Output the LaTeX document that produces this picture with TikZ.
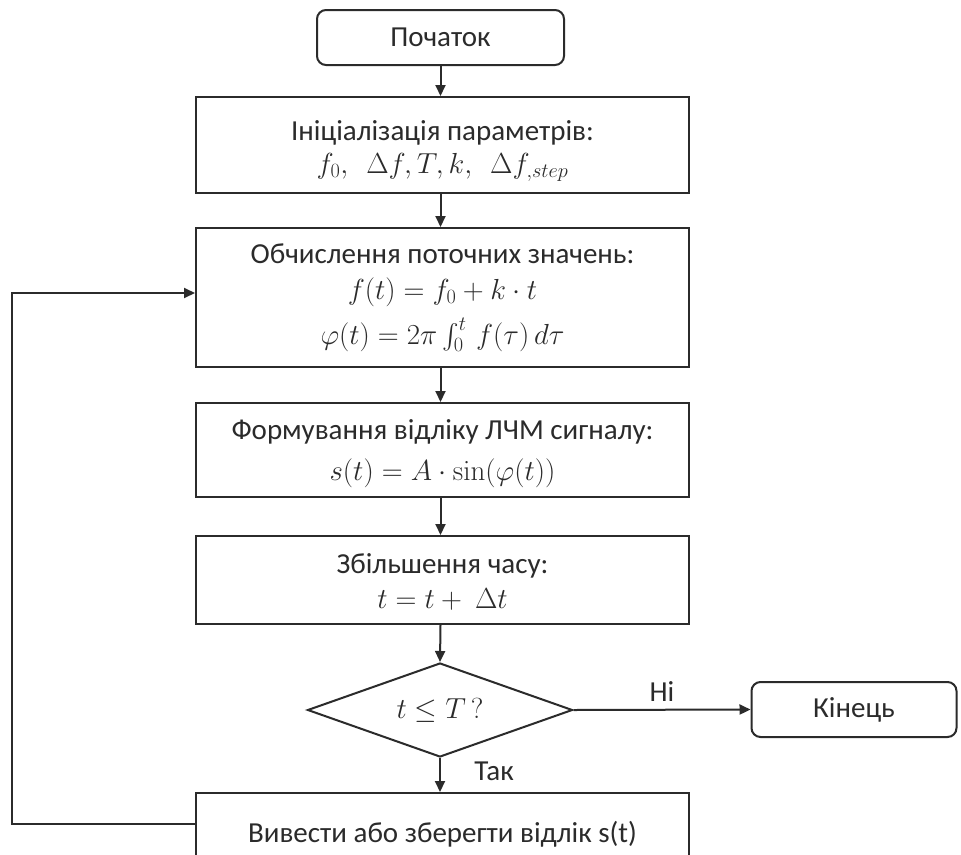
\RequirePackage{fix-cm}
\documentclass[tikz,border=0pt]{standalone}
\usepackage{exscale}
\usepackage[no-math]{fontspec}
\setmainfont{Carlito}
\usetikzlibrary{shapes.geometric,arrows.meta}
\definecolor{ink}{HTML}{2B2B2B}
\tikzset{
  base/.style={draw=ink, line width=2pt, text=ink, align=center, inner sep=0pt,
    font=\fontsize{29}{37}\selectfont},
  term/.style={base, rounded corners=9pt},
  procbox/.style={base, minimum width=493pt},
  decision/.style={base, diamond, minimum width=265pt, minimum height=94pt, aspect=2.8},
  arr/.style={draw=ink, line width=2pt, -{Triangle[length=11pt,width=10pt]}},
  lbl/.style={text=ink, font=\fontsize{29}{34}\selectfont}
}
\begin{document}
\begin{tikzpicture}[x=1pt,y=-1pt]
\clip (0,0) rectangle (961,854);
\fill[white] (0,0) rectangle (961,854);

\node[term, minimum width=247pt, minimum height=55pt] (start) at (440.5,37.5) {Початок};
\node[procbox, minimum height=96pt] (init) at (442.5,145)
  {\rule{0pt}{32pt}Ініціалізація параметрів:\\[-4pt] $f_0,\ \ \Delta f, T, k,\ \ \Delta f_{,step}$};
\node[procbox, minimum height=139pt] (calc) at (442.5,297.5)
  {Обчислення поточних значень:\\[-1pt] $f(t)=f_0+k\cdot t$\\[8pt] $\varphi(t)=2\pi\int_0^t\, f(\tau)\,d\tau$};
\node[procbox, minimum height=94pt] (form) at (442.5,450)
  {\rule{0pt}{28pt}Формування відліку ЛЧМ сигналу:\\[4pt] $s(t)=A\cdot \sin(\varphi(t))$};
\node[procbox, minimum height=88pt] (incr) at (442.5,580)
  {\rule{0pt}{24pt}Збільшення часу:\\[-2pt] $t=t+\ \Delta t$};
\node[decision] (dec) at (440,710) {$t\le T\,?$};
\node[term, minimum width=205pt, minimum height=55pt] (end) at (854,709.5) {Кінець};
\node[procbox, minimum height=82pt] (out) at (442.5,834) {Вивести або зберегти відлік s(t)};

\draw[arr] (start) -- (start |- init.north);
\draw[arr] (start |- init.south) -- (start |- calc.north);
\draw[arr] (start |- calc.south) -- (start |- form.north);
\draw[arr] (start |- form.south) -- (start |- incr.north);
\draw[arr] (start |- incr.south) -- (dec.north);
\draw[arr] (dec.east) -- node[lbl, above=4pt, pos=0.5] (no) {Ні} (end.west);
\draw[arr] (dec.south) -- node[lbl, right=30pt, pos=0.4] (yes) {Так} (dec.south |- out.north);
\draw[arr] ([yshift=10pt]out.west) -- ++(-183,0) |- ([yshift=4.5pt]calc.west);
\end{tikzpicture}
\end{document}
